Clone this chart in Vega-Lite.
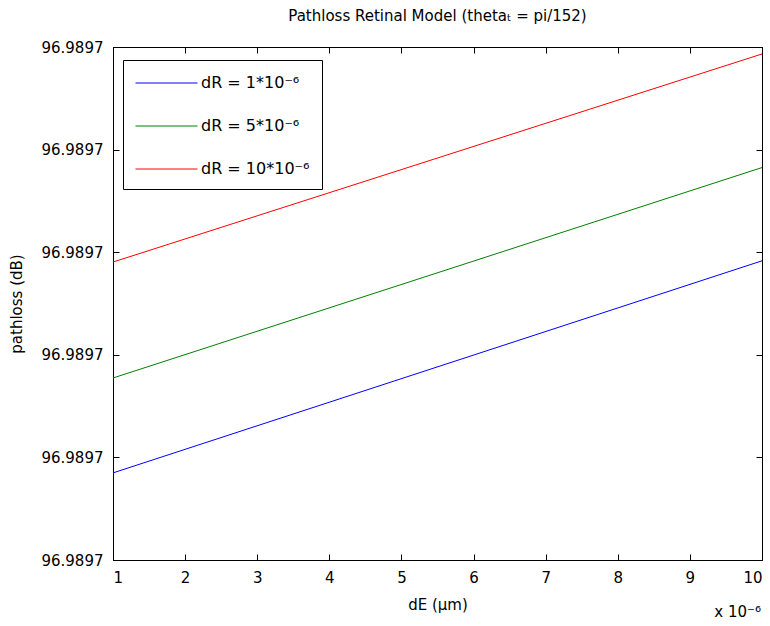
{
  "$schema": "https://vega.github.io/schema/vega-lite/v6.json",
  "width": 649,
  "height": 513,
  "autosize": {"type": "none"},
  "padding": {"left": 113, "top": 47, "right": 8, "bottom": 66},
  "background": "white",
  "config": {
    "font": "DejaVu Sans",
    "view": {"stroke": "black", "strokeWidth": 1},
    "axis": {
      "labelFont": "DejaVu Sans", "labelFontSize": 15, "labelColor": "black",
      "titleFont": "DejaVu Sans", "titleFontSize": 15, "titleFontWeight": "normal", "titleColor": "black",
      "domainColor": "black", "tickColor": "black", "tickSize": -6, "grid": false, "labelPadding": 16
    }
  },
  "title": {"text": "Pathloss Retinal Model (thetaₜ = pi/152)", "fontSize": 15, "fontWeight": "normal", "font": "DejaVu Sans", "color": "black", "offset": 16},
  "datasets": {
    "lines": [
      {"series": "dR = 1*10⁻⁶", "dE": 1, "pathloss": 0.849},
      {"series": "dR = 1*10⁻⁶", "dE": 10, "pathloss": 2.916},
      {"series": "dR = 5*10⁻⁶", "dE": 1, "pathloss": 1.774},
      {"series": "dR = 5*10⁻⁶", "dE": 10, "pathloss": 3.825},
      {"series": "dR = 10*10⁻⁶", "dE": 1, "pathloss": 2.904},
      {"series": "dR = 10*10⁻⁶", "dE": 10, "pathloss": 4.932}
    ]
  },
  "layer": [
    {
      "data": {"name": "lines"},
      "mark": {"type": "line", "strokeWidth": 1},
      "encoding": {
        "x": {"field": "dE", "type": "quantitative", "scale": {"domain": [1, 10], "nice": false, "zero": false},
              "axis": {"orient": "bottom", "values": [1,2,3,4,5,6,7,8,9,10], "format": "d", "title": "dE (µm)", "titlePadding": 12}},
        "y": {"field": "pathloss", "type": "quantitative", "scale": {"domain": [0, 5], "nice": false, "zero": false},
              "axis": {"orient": "left", "values": [0,1,2,3,4,5], "labelExpr": "'96.9897'", "title": "pathloss (dB)", "titlePadding": 16}},
        "color": {"field": "series", "type": "nominal",
                  "scale": {"domain": ["dR = 1*10⁻⁶", "dR = 5*10⁻⁶", "dR = 10*10⁻⁶"], "range": ["#0000ff", "#008000", "#ff0000"]},
                  "legend": {"orient": "none", "legendX": 10, "legendY": 13, "title": null,
                             "strokeColor": "black", "fillColor": "white", "padding": 12,
                             "symbolType": "M-1,0.05H5.2", "symbolSize": 400, "symbolStrokeWidth": 1,
                             "labelOffset": 45, "labelFontSize": 16, "labelFont": "DejaVu Sans", "labelColor": "black",
                             "rowPadding": 24,
                             "encode": {"symbols": {"update": {"stroke": {"scale": "color", "field": "value"}}}}}}
      }
    },
    {
      "data": {"name": "lines"},
      "mark": {"type": "line", "strokeOpacity": 0},
      "encoding": {
        "x": {"field": "dE", "type": "quantitative",
              "axis": {"orient": "top", "values": [1,2,3,4,5,6,7,8,9,10], "labels": false, "title": null}},
        "y": {"field": "pathloss", "type": "quantitative",
              "axis": {"orient": "right", "values": [0,1,2,3,4,5], "labels": false, "title": null}},
        "detail": {"field": "series"}
      }
    },
    {
      "data": {"values": [{"dE": 10, "pathloss": 0, "t": "x 10⁻⁶"}]},
      "mark": {"type": "text", "align": "right", "baseline": "bottom", "dy": 60, "dx": -1, "fontSize": 15, "font": "DejaVu Sans", "color": "black"},
      "encoding": {
        "x": {"field": "dE", "type": "quantitative", "axis": null},
        "y": {"field": "pathloss", "type": "quantitative", "axis": null},
        "text": {"field": "t"}
      }
    }
  ],
  "resolve": {"axis": {"x": "independent", "y": "independent"}}
}
